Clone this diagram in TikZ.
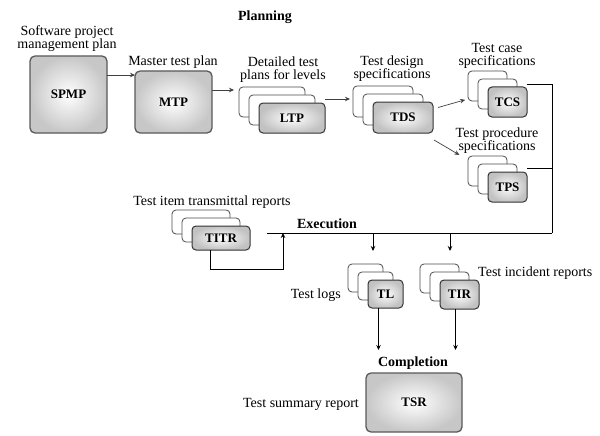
\documentclass[tikz,border=0pt]{standalone}
\usepackage{fontspec}
\setmainfont{Liberation Serif}
\usetikzlibrary{arrows.meta,calc}

\tikzset{
  txt/.style={font=\fontsize{14}{13}\selectfont, inner sep=0pt, align=center},
  phase/.style={font=\fontsize{14}{13}\selectfont\bfseries, inner sep=0pt},
  bigbox/.style={draw=black!65, line width=1.3pt, rounded corners=5pt,
    inner color=white, outer color=black!22, inner sep=0pt, outer sep=0pt,
    font=\fontsize{13}{13}\selectfont\bfseries, anchor=north west},
  frontcard/.style={draw=black!80, line width=1pt, rounded corners=4pt,
    inner color=white, outer color=black!24, inner sep=0pt, outer sep=0pt,
    font=\fontsize{13}{13}\selectfont\bfseries, anchor=north west},
  backcard/.style={draw=black!70, line width=0.8pt, rounded corners=4pt,
    fill=white, inner sep=0pt, outer sep=0pt, anchor=north west},
  flow/.style={-{Stealth[length=5pt,width=4.5pt]}, draw=black!75, line width=0.7pt},
  bus/.style={draw=black, line width=1pt},
}

% stack of three documents: name, x, y (top left of the front sheet), width, height, label
\newcommand\docstack[6]{%
  \node[backcard, minimum width=#4pt, minimum height=#5pt] (#1-b2) at (#2-20,#3-16) {};
  \node[backcard, minimum width=#4pt, minimum height=#5pt] (#1-b1) at (#2-10,#3-8) {};
  \node[frontcard, minimum width=#4pt, minimum height=#5pt] (#1) at (#2,#3) {#6};
}

\begin{document}
\begin{tikzpicture}[x=1pt,y=-1pt]
  \useasboundingbox (0,0) rectangle (600,436);

  % ---------- Planning ----------
  \node[phase] (planning) at (265,17) {Planning};

  \node[bigbox, minimum width=77pt, minimum height=77pt] (spmp) at (30,56) {SPMP};
  \node[txt] (spmp-t) at (67,39) {Software project\\management plan};

  \node[bigbox, minimum width=77pt, minimum height=62pt] (mtp) at (135,71) {MTP};
  \node[txt] (mtp-t) at (173,62) {Master test plan};

  \docstack{ltp}{259}{103}{66}{30}{LTP}
  \node[txt] (ltp-t) at (283,70) {Detailed test\\plans for levels};

  \docstack{tds}{373}{102}{60}{31}{TDS}
  \node[txt] (tds-t) at (392,69) {Test design\\specifications};

  \docstack{tcs}{488}{87}{39}{30}{TCS}
  \node[txt] (tcs-t) at (497,56) {Test case\\specifications};

  \docstack{tps}{488}{172}{39}{30}{TPS}
  \node[txt] (tps-t) at (497,141) {Test procedure\\specifications};

  \draw[flow] (spmp.east |- 0,75) -- (mtp.west |- 0,75);
  \draw[flow, shorten >=5pt] (mtp.east |- 0,90) -- (ltp-b2.west |- 0,90);
  \draw[flow, shorten >=3pt] (ltp.east |- 0,99) -- (tds-b2.west |- 0,99);
  \draw[flow, shorten >=3pt] ($(tds.east)+(5,-10)$) -- (tcs-b2.west |- 0,99);
  \draw[flow, shorten >=10pt] ($(tds.south east)+(1,7)$) -- (tps-b2.west |- 0,160);

  % ---------- Execution ----------
  \coordinate (bus-r) at (552,233);
  \coordinate (bus-l) at (267,233);
  \coordinate (tapT) at (283,233);
  \coordinate (tapL) at (373,233);
  \coordinate (tapR) at (450,233);

  \draw[bus] (tcs.east |- 0,85) -| (bus-r);
  \draw[bus] (tps.east |- 0,168) -- (bus-r |- 0,168);
  \draw[bus] (bus-l) -- (bus-r);
  \node[phase] (execution) at (327,224) {Execution};

  \docstack{titr}{192}{226}{58}{24}{TITR}
  \node[txt] (titr-t) at (212,202) {Test item transmittal reports};
  \draw[flow, draw=black, line width=0.9pt] ([xshift=-11pt]titr.south) -- ++(0,19) -| (tapT);

  \docstack{tl}{368}{280}{35}{28}{TL}
  \node[txt, anchor=east] (tl-t) at (341,295) {Test logs};

  \docstack{tir}{440}{280}{39}{29}{TIR}
  \node[txt, anchor=west] (tir-t) at (478,273) {Test incident reports};

  \draw[flow, draw=black, line width=0.9pt, shorten >=13pt] (tapL) -- (tapL |- tl-b2.north);
  \draw[flow, draw=black, line width=0.9pt, shorten >=13pt] (tapR) -- (tapR |- tir-b2.north);

  % ---------- Completion ----------
  \node[phase] (completion) at (413,363) {Completion};
  \node[bigbox, minimum width=96pt, minimum height=59pt] (tsr) at (366,373) {TSR};
  \node[txt, anchor=east] (tsr-t) at (359,404) {Test summary report};

  \draw[flow, draw=black, line width=0.9pt, shorten >=23pt] ([xshift=-7pt]tl.south) -- ([xshift=-7pt]tl.south |- tsr.north);
  \draw[flow, draw=black, line width=0.9pt, shorten >=23pt] ([xshift=-4pt]tir.south) -- ([xshift=-4pt]tir.south |- tsr.north);
\end{tikzpicture}
\end{document}
